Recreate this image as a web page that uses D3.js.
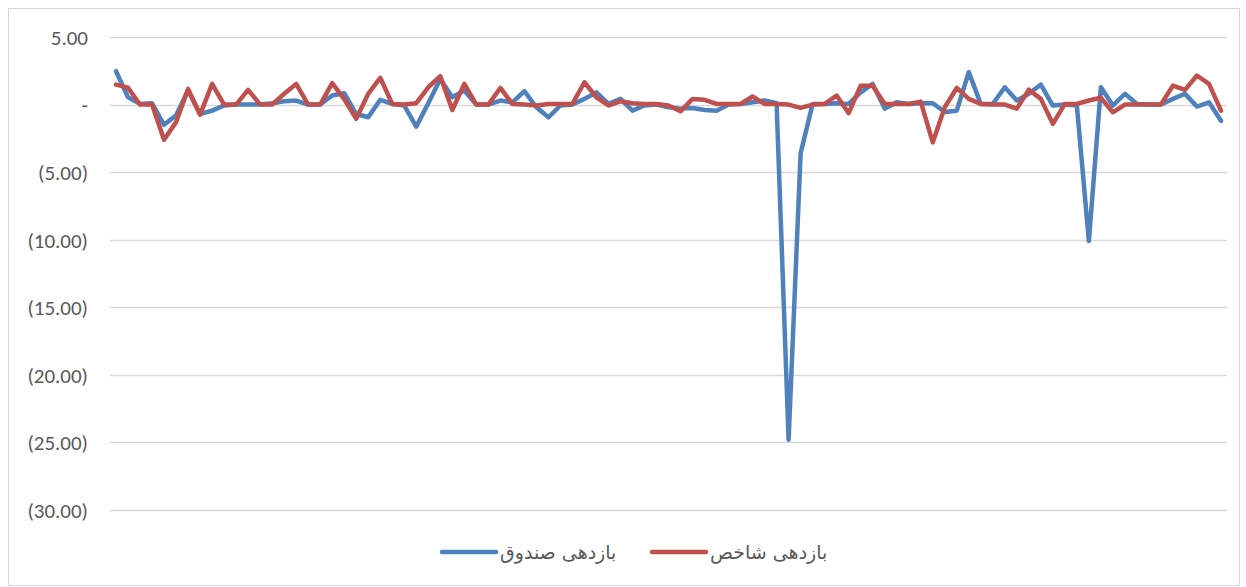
<!DOCTYPE html>
<html>
<head>
<meta charset="utf-8">
<script src="https://cdn.jsdelivr.net/npm/d3@7"></script>
<style>
  body { margin: 0; background: #fff; }
  svg { display: block; }
  .tick-label { font-family: Calibri, Carlito, "Liberation Sans", sans-serif; font-size: 21px; fill: #595959; }
  .legend-label { font-family: "DejaVu Sans", sans-serif; font-size: 19px; fill: #595959; }
</style>
</head>
<body>
<div id="chart"></div>
<script>
// Monthly returns (93 periods)
let fundReturns = [
    2.47, 0.54, 0.05, 0.1, -1.5, -0.8, 1.05, -0.7, -0.45, -0.07,
    0, 0, 0, 0.1, 0.25, 0.3, 0, 0, 0.67, 0.84,
    -0.7, -0.94, 0.35, 0.05, -0.07, -1.63, 0.1, 1.9, 0.54, 1.04,
    0, 0, 0.3, 0.17, 1.0, -0.2, -0.94, -0.07, 0, 0.42,
    0.9, 0.05, 0.42, -0.45, -0.07, 0, -0.2, -0.3, -0.25, -0.4,
    -0.45, 0, 0.05, 0.17, 0.3, 0.1, -24.8, -3.6, 0.05, 0.05,
    0.1, 0.05, 0.9, 1.53, -0.3, 0.17, 0.05, 0.1, 0.1, -0.55,
    -0.45, 2.4, 0.05, 0.05, 1.28, 0.3, 0.8, 1.48, -0.07, 0,
    -0.07, -10.1, 1.28, -0.07, 0.8, 0.05, 0, 0, 0.42, 0.8,
    -0.15, 0.17, -1.2
];
let indexReturns = [
    1.48, 1.25, 0, 0, -2.6, -1.3, 1.16, -0.75, 1.53, 0,
    0, 1.09, 0, 0, 0.8, 1.53, 0, 0, 1.58, 0.4,
    -1.06, 0.8, 1.98, 0.05, 0, 0.1, 1.28, 2.1, -0.4, 1.53,
    0, 0, 1.23, 0.05, 0, -0.07, 0.05, 0.05, 0.05, 1.65,
    0.54, -0.07, 0.25, 0.1, 0.05, 0.05, -0.07, -0.5, 0.42, 0.35,
    0.05, 0.05, 0.05, 0.6, 0.05, 0.05, 0, -0.25, 0, 0.05,
    0.67, -0.64, 1.4, 1.4, 0.05, 0.05, 0.05, 0.22, -2.8, -0.2,
    1.23, 0.42, 0.05, 0, 0, -0.3, 1.1, 0.42, -1.43, 0.05,
    0.05, 0.3, 0.5, -0.57, 0, 0, 0, 0, 1.4, 1.09,
    2.15, 1.53, -0.45
];
let periods = d3.range(1, fundReturns.length + 1);
let yTicks = [5, 0, -5, -10, -15, -20, -25, -30];
let seriesNames = ["بازدهی صندوق", "بازدهی شاخص"];
let seriesColors = ["#4f81bd", "#c0504d"];

let width = 1246, height = 587;

let svg = d3.select("#chart").append("svg")
    .attr("width", width)
    .attr("height", height);

// chart border
svg.append("rect")
    .attr("x", 8.5).attr("y", 8.5)
    .attr("width", 1231).attr("height", 577)
    .attr("fill", "none")
    .attr("stroke", "#d9d9d9");

let x = d3.scalePoint()
    .domain(periods)
    .range([110, 1227])
    .padding(0.5);

let y = d3.scaleLinear()
    .domain([-30, 5])
    .range([510, 37]);

// gridlines
svg.append("g")
    .selectAll("line")
    .data(yTicks)
    .enter()
    .append("line")
    .attr("x1", 110).attr("x2", 1227)
    .attr("y1", function (d) { return Math.round(y(d)) + 0.5; })
    .attr("y2", function (d) { return Math.round(y(d)) + 0.5; })
    .attr("stroke", "#d9d9d9")
    .attr("stroke-width", 1.3);

// y axis labels
function fmt(d) {
    if (d === 0) return "-";
    let s = Math.abs(d).toFixed(2);
    return d < 0 ? "(" + s + ")" : s;
}
let yAxis = d3.axisLeft(y).tickValues(yTicks).tickFormat(fmt).tickSize(0).tickPadding(0);
let yG = svg.append("g")
    .attr("transform", "translate(88,0)")
    .call(yAxis);
yG.select(".domain").remove();
yG.selectAll("text")
    .attr("class", "tick-label")
    .attr("dy", "0.35em")
    .attr("font-family", null)
    .attr("font-size", null);
yG.attr("font-family", null).attr("font-size", null);

// lines
let line = d3.line()
    .x(function (d, i) { return x(periods[i]); })
    .y(function (d) { return y(d); });

[fundReturns, indexReturns].forEach(function (values, k) {
    svg.append("path")
        .datum(values)
        .attr("fill", "none")
        .attr("stroke", seriesColors[k])
        .attr("stroke-width", 4.5)
        .attr("stroke-linejoin", "round")
        .attr("stroke-linecap", "round")
        .attr("d", line);
});

// legend
let legendX = [442, 652];
let legend = svg.append("g")
    .selectAll("g")
    .data(seriesNames)
    .enter()
    .append("g");

legend.append("line")
    .attr("x1", function (d, i) { return legendX[i]; })
    .attr("x2", function (d, i) { return legendX[i] + 54; })
    .attr("y1", 552).attr("y2", 552)
    .attr("stroke", function (d, i) { return seriesColors[i]; })
    .attr("stroke-width", 4.5)
    .attr("stroke-linecap", "round");

legend.append("text")
    .attr("class", "legend-label")
    .attr("x", function (d, i) { return legendX[i] + 58; })
    .attr("y", 552)
    .attr("dy", "0.35em")
    .text(function (d) { return d; });
</script>
</body>
</html>
